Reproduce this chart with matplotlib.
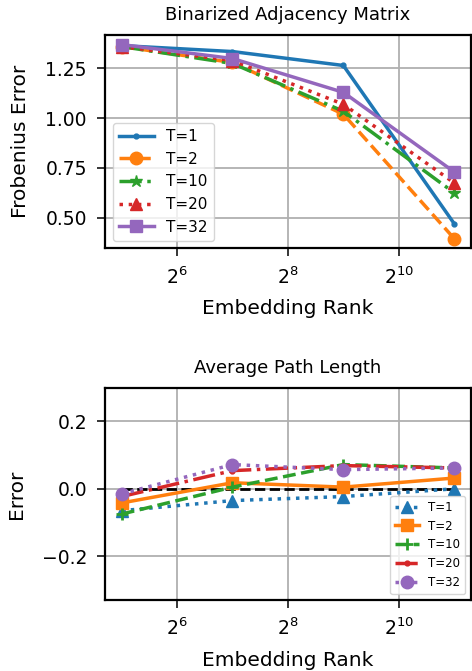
import matplotlib
matplotlib.use('Agg')
import matplotlib.pyplot as plt
from matplotlib.ticker import LogFormatterSciNotation, NullLocator

ranks = [32, 128, 512, 2048]
labels = ['T=1', 'T=2', 'T=10', 'T=20', 'T=32']

# Frobenius error of binarized adjacency matrix
frob = {
    'T=1': [1.365, 1.335, 1.265, 0.47],
    'T=2': [1.36, 1.28, 1.02, 0.395],
    'T=10': [1.36, 1.275, 1.035, 0.625],
    'T=20': [1.36, 1.29, 1.07, 0.675],
    'T=32': [1.37, 1.30, 1.13, 0.73],
}

# error of average path length
apl = {
    'T=1': [-0.065, -0.035, -0.023, 0.0],
    'T=2': [-0.042, 0.018, 0.005, 0.032],
    'T=10': [-0.075, 0.005, 0.072, 0.062],
    'T=20': [-0.023, 0.054, 0.069, 0.062],
    'T=32': [-0.015, 0.072, 0.057, 0.062],
}

colors = ['#1f77b4', '#ff7f0e', '#2ca02c', '#d62728', '#9467bd']
top_styles = [('-', '.', 7), ('--', 'o', 9), ('-.', '*', 9), (':', '^', 9), ('-', 's', 8)]
bot_styles = [(':', '^', 9), ('-', 's', 8), ('--', '+', 9), ('-.', '.', 7), (':', 'o', 9)]

plt.rcParams['font.family'] = 'DejaVu Sans'

fig = plt.figure(figsize=(4.72, 6.71), dpi=100)
ax1 = fig.add_axes([0.2225, 0.630, 0.775, 0.318])
ax2 = fig.add_axes([0.2225, 0.106, 0.775, 0.316])

for i, lab in enumerate(labels):
    ls, mk, ms = top_styles[i]
    ax1.plot(ranks, frob[lab], linestyle=ls, marker=mk, markersize=ms,
             color=colors[i], linewidth=2.5, label=lab)

ax2.plot(ranks, [0] * len(ranks), 'k--', linewidth=2)
for i, lab in enumerate(labels):
    ls, mk, ms = bot_styles[i]
    ax2.plot(ranks, apl[lab], linestyle=ls, marker=mk, markersize=ms,
             markeredgewidth=2 if mk == '+' else 1,
             color=colors[i], linewidth=2.5, label=lab)

for ax in (ax1, ax2):
    ax.set_xscale('log', base=2)
    ax.set_xticks([64, 256, 1024])
    ax.xaxis.set_major_formatter(LogFormatterSciNotation(base=2))
    ax.xaxis.set_minor_locator(NullLocator())
    ax.grid(True, color='#b0b0b0', linewidth=1.3)
    ax.set_axisbelow(True)
    ax.tick_params(labelsize=13.5, length=6, width=1.1, pad=7)
    for sp in ax.spines.values():
        sp.set_linewidth(1.6)
    ax.set_xlabel('Embedding Rank', fontsize=14.5, labelpad=8)

ax1.set_title('Binarized Adjacency Matrix', fontsize=13, pad=11)
ax1.set_ylabel('Frobenius Error', fontsize=14.5, labelpad=11)
ax1.set_yticks([0.5, 0.75, 1.0, 1.25])
ax1.legend(loc='lower left', fontsize=11, handlelength=2.3)

ax2.set_title('Average Path Length', fontsize=13, pad=11)
ax2.set_ylabel('Error', fontsize=14.5, labelpad=11)
ax2.set_ylim(-0.33, 0.3)
ax2.set_yticks([-0.2, 0.0, 0.2])
ax2.legend(loc='lower right', fontsize=8.5)

fig.savefig('out.png', dpi=100)
